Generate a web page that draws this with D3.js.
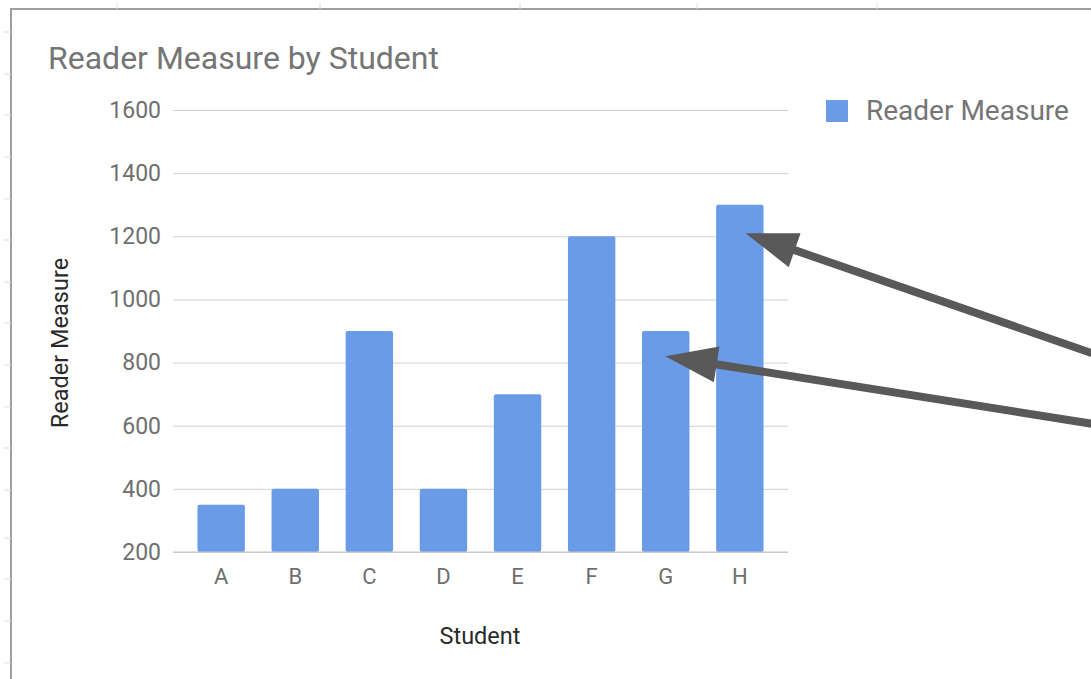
<!DOCTYPE html>
<html><head><meta charset="utf-8">
<script src="https://cdn.jsdelivr.net/npm/d3@7"></script>
<style>html,body{margin:0;padding:0;background:#fff;}svg{display:block;font-family:Roboto,sans-serif;}</style>
</head><body>
<svg id="chart" width="1091" height="679"></svg>
<script>
const categories = ["A","B","C","D","E","F","G","H"];
const values = [350, 400, 900, 400, 700, 1200, 900, 1300];
const yTicks = [200, 400, 600, 800, 1000, 1200, 1400, 1600];
const seriesName = "Reader Measure";
const title = "Reader Measure by Student";
const xTitle = "Student";
const yTitle = "Reader Measure";
// annotation arrows: [category, value pointed to]
const arrowTargets = [["H", 1210], ["G", 820]];

const svg = d3.select("#chart");
const W = 1091, H = 679;

// sheet frame decorations
const frame = svg.append("g");
frame.append("path").attr("d", `M11,${H} L11,9 L${W},9`).attr("fill","none").attr("stroke","#9e9e9e").attr("stroke-width",2);
[117, 320, 520, 697, 877].forEach(xx => frame.append("line").attr("x1",xx).attr("x2",xx).attr("y1",3).attr("y2",9).attr("stroke","#ddd"));
[32,74,115,157,199,240,282,323,365,407,448,490,538,579,621,663].forEach(yy => frame.append("line").attr("x1",4).attr("x2",11).attr("y1",yy).attr("y2",yy).attr("stroke","#ddd"));

const x0 = 173, x1 = 788, yTop = 110, yBot = 552;
const x = d3.scaleBand().domain(categories).range([x0, x1]).paddingInner(0.36).paddingOuter(0.33);
const y = d3.scaleLinear().domain([200, 1600]).range([yBot, yTop]);

// gridlines + y labels
const yAxis = d3.axisLeft(y).tickValues(yTicks).tickFormat(d3.format("d")).tickSize(-(x1 - x0)).tickPadding(12);
const gy = svg.append("g").attr("transform", `translate(${x0},0)`).call(yAxis);
gy.select(".domain").remove();
gy.selectAll(".tick line").attr("stroke", "#d0d0d0").attr("stroke-width", 1);
gy.selectAll(".tick text").attr("fill", "#6f6f6f").style("font-size", "23px").attr("font-family","Roboto");

// bars
svg.append("g").selectAll("rect").data(categories).join("rect")
  .attr("x", d => x(d)).attr("width", x.bandwidth())
  .attr("y", (d,i) => y(values[i])).attr("height", (d,i) => yBot - y(values[i]))
  .attr("rx", 2).attr("fill", "#6a9be7");

// baseline
svg.append("line").attr("x1", x0).attr("x2", x1).attr("y1", y(200)).attr("y2", y(200)).attr("stroke", "#c4c4c4");

// x axis labels
const xAxis = d3.axisBottom(x).tickSize(0).tickPadding(16);
const gx = svg.append("g").attr("transform", `translate(0,${yBot})`).call(xAxis);
gx.select(".domain").remove();
gx.selectAll(".tick text").attr("fill", "#6f6f6f").style("font-size", "22px").attr("font-family","Roboto");

// titles
svg.append("text").attr("x", 48).attr("y", 69).text(title).attr("fill", "#757575").style("font-size", "32px");
svg.append("text").attr("x", 480).attr("y", 644).attr("text-anchor", "middle").text(xTitle).attr("fill", "#2a2a2a").style("font-size", "23.5px");
svg.append("text").attr("transform", `translate(68,${(yTop + yBot) / 2 + 12}) rotate(-90)`).attr("text-anchor", "middle").text(yTitle).attr("fill", "#2a2a2a").style("font-size", "23.5px");

// legend
svg.append("rect").attr("x", 826).attr("y", 100).attr("width", 22).attr("height", 22).attr("fill", "#6a9be7");
svg.append("text").attr("x", 866).attr("y", 120).text(seriesName).attr("fill", "#757575").style("font-size", "28px");

// annotation arrows (drawn as shaft + triangular head)
const starts = [[1100, 356], [1100, 425]];
const headLen = 52, headHalf = 18;
arrowTargets.forEach(([c, v], i) => {
  const tx = x(c) + x.bandwidth() * (i === 0 ? 0.62 : 0.49);
  const ty = y(v);
  const [sx, sy] = starts[i];
  const dx = tx - sx, dy = ty - sy, len = Math.hypot(dx, dy);
  const ux = dx / len, uy = dy / len;
  const bx = tx - ux * headLen, by = ty - uy * headLen;
  svg.append("line").attr("x1", sx).attr("y1", sy).attr("x2", bx + ux * 4).attr("y2", by + uy * 4)
    .attr("stroke", "#595959").attr("stroke-width", 8);
  svg.append("path")
    .attr("d", `M${tx},${ty} L${bx - uy * headHalf},${by + ux * headHalf} L${bx + uy * headHalf},${by - ux * headHalf} Z`)
    .attr("fill", "#595959");
});
</script>
</body></html>
